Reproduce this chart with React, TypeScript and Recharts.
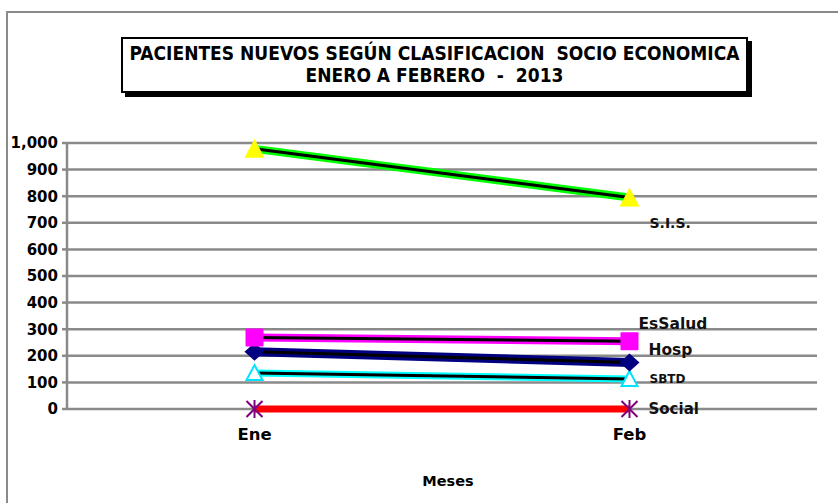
import { LineChart, Line, XAxis, YAxis, CartesianGrid } from "recharts";

const meses = ["Ene", "Feb"];
const sis = [978, 795];
const essalud = [269, 255];
const hosp = [215, 175];
const sbtd = [135, 113];
const social = [0, 0];
const yTicks = [0, 100, 200, 300, 400, 500, 600, 700, 800, 900, 1000];
const limites = [0, 1, 2];

const data = meses.map((mes, i) => ({
  mes,
  sis: sis[i],
  essalud: essalud[i],
  hosp: hosp[i],
  sbtd: sbtd[i],
  social: social[i],
}));

const GRIS = "#8a8a8a";
const FUENTE = "'DejaVu Sans', Verdana, sans-serif";

type Serie = {
  key: string;
  name: string;
  color: string;
  width: number;
  black: boolean;
  marker: (cx: number, cy: number) => any;
  dx: number;
  dy: number;
  size: number;
};

const series: Serie[] = [
  {
    key: "social",
    name: "Social",
    color: "#ff0000",
    width: 7,
    black: false,
    marker: (cx, cy) => (
      <g stroke="#7f007f" strokeWidth={2}>
        <line x1={cx} y1={cy - 9} x2={cx} y2={cy + 9} />
        <line x1={cx - 8} y1={cy - 8} x2={cx + 8} y2={cy + 8} />
        <line x1={cx + 8} y1={cy - 8} x2={cx - 8} y2={cy + 8} />
      </g>
    ),
    dx: 19,
    dy: 0,
    size: 15,
  },
  {
    key: "sbtd",
    name: "SBTD",
    color: "#00ffff",
    width: 7,
    black: true,
    marker: (cx, cy) => (
      <polygon
        points={`${cx},${cy - 8} ${cx + 8},${cy + 7} ${cx - 8},${cy + 7}`}
        fill="#fff"
        stroke="#00e5ff"
        strokeWidth={2}
      />
    ),
    dx: 20,
    dy: 0,
    size: 12,
  },
  {
    key: "hosp",
    name: "Hosp",
    color: "#000080",
    width: 9,
    black: true,
    marker: (cx, cy) => (
      <polygon points={`${cx},${cy - 9} ${cx + 10},${cy} ${cx},${cy + 9} ${cx - 10},${cy}`} fill="#000080" />
    ),
    dx: 19,
    dy: -12,
    size: 15.5,
  },
  {
    key: "essalud",
    name: "EsSalud",
    color: "#ff00ff",
    width: 8,
    black: true,
    marker: (cx, cy) => <rect x={cx - 9} y={cy - 9} width={18} height={18} rx={1} fill="#ff00ff" />,
    dx: 9,
    dy: -17,
    size: 15.5,
  },
  {
    key: "sis",
    name: "S.I.S.",
    color: "#00ff00",
    width: 8,
    black: true,
    marker: (cx, cy) => (
      <polygon points={`${cx},${cy - 10} ${cx + 10},${cy + 9} ${cx - 10},${cy + 9}`} fill="#ffff00" />
    ),
    dx: 20,
    dy: 25,
    size: 14,
  },
];

function makeDot(s: Serie) {
  return (props: any) => {
    const { cx, cy, index } = props;
    if (cx == null || cy == null) return <g key={`${s.key}-${index}`} />;
    return (
      <g key={`${s.key}-${index}`}>
        {s.marker(cx, cy)}
        {index === meses.length - 1 && (
          <text
            x={cx + s.dx}
            y={cy + s.dy}
            dominantBaseline="central"
            fontFamily={FUENTE}
            fontWeight="bold"
            fontSize={s.size}
            fill="#111"
          >
            {s.name}
          </text>
        )}
      </g>
    );
  };
}

export default function App() {
  return (
    <div style={{ position: "absolute", left: 0, top: 0, width: 838, height: 503, background: "#fff", overflow: "hidden" }}>
      <div
        style={{
          position: "absolute",
          left: 6,
          top: 11,
          width: 840,
          height: 500,
          borderLeft: `2px solid ${GRIS}`,
          borderTop: `2px solid ${GRIS}`,
        }}
      />
      <LineChart width={838} height={503} data={data} margin={{ top: 143, right: 21, left: 7, bottom: 34 }}>
        <CartesianGrid vertical={false} stroke={GRIS} strokeWidth={2.5} />
        <XAxis
          xAxisId="limites"
          type="number"
          domain={[0, 2]}
          ticks={limites}
          tick={false}
          axisLine={false}
          tickSize={8}
          height={0}
          tickLine={{ stroke: GRIS, strokeWidth: 2.5 }}
        />
        <XAxis
          dataKey="mes"
          padding={{ left: 187.5, right: 187.5 }}
          height={60}
          axisLine={false}
          tickLine={false}
          tickSize={0}
          tickMargin={19}
          tick={{ fill: "#000", fontSize: 16.5, fontWeight: "bold", fontFamily: FUENTE }}
          label={{
            value: "Meses",
            position: "bottom",
            offset: 7,
            dx: 6,
            fill: "#000",
            fontSize: 14.5,
            fontWeight: "bold",
            fontFamily: FUENTE,
          }}
        />
        <YAxis
          domain={[0, 1000]}
          ticks={yTicks}
          width={60}
          tickSize={5}
          tickMargin={4}
          axisLine={{ stroke: GRIS, strokeWidth: 2.5 }}
          tickLine={{ stroke: GRIS, strokeWidth: 2.5 }}
          tickFormatter={(v: number) => v.toLocaleString("en-US")}
          tick={{ fill: "#000", fontSize: 15, fontWeight: "bold", fontFamily: FUENTE }}
        />
        {series.map((s) => (
          <Line
            key={`${s.key}-c`}
            dataKey={s.key}
            stroke={s.color}
            strokeWidth={s.width}
            dot={s.black ? false : makeDot(s)}
            activeDot={false}
            isAnimationActive={false}
          />
        ))}
        {series
          .filter((s) => s.black)
          .map((s) => (
            <Line
              key={`${s.key}-n`}
              dataKey={s.key}
              stroke="#000"
              strokeWidth={3}
              dot={makeDot(s)}
              activeDot={false}
              isAnimationActive={false}
            />
          ))}
      </LineChart>
      <div
        style={{
          position: "absolute",
          left: 121,
          top: 37,
          width: 623,
          height: 49,
          border: "2px solid #000",
          boxShadow: "4px 4px 0 #000",
          background: "#fff",
          fontFamily: "'DejaVu Sans Condensed', 'DejaVu Sans', sans-serif",
          fontWeight: "bold",
          fontSize: 19,
          lineHeight: "22px",
          textAlign: "center",
          paddingTop: 3,
          boxSizing: "content-box",
          color: "#000",
          whiteSpace: "nowrap",
        }}
      >
        <div>PACIENTES NUEVOS SEGÚN CLASIFICACION&nbsp; SOCIO ECONOMICA</div>
        <div>ENERO A FEBRERO &nbsp;- &nbsp;2013</div>
      </div>
    </div>
  );
}
